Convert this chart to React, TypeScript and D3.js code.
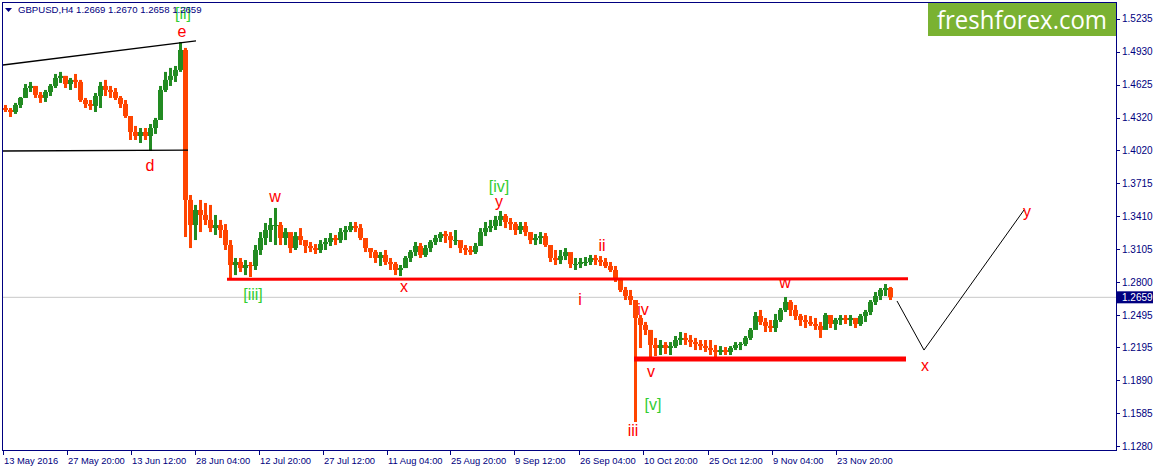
import React from 'react';
import * as d3 from 'd3';

// ---- data (GBPUSD H4, groups of 5 bars) ----
const firstOpen = 1.4411;
const highs = [
  1.4439, 1.4411, 1.4458, 1.4513, 1.4633, 1.4652, 1.4615, 1.4559, 1.4578, 1.4633,
  1.4726, 1.4745, 1.4708, 1.4689, 1.4726, 1.4671, 1.4504, 1.4485, 1.4550, 1.4652,
  1.4671, 1.4615, 1.4596, 1.4522, 1.4485, 1.4319, 1.4245, 1.4226, 1.4226, 1.4263,
  1.4319, 1.4615, 1.4745, 1.4782, 1.4800, 1.5022, 1.4967, 1.3606, 1.3514, 1.3560,
  1.3532, 1.3514, 1.3421, 1.3375, 1.3337, 1.3189, 1.3023, 1.3023, 1.3004, 1.2986,
  1.3143, 1.3263, 1.3347, 1.3393, 1.3486, 1.3356, 1.3300, 1.3208, 1.3263, 1.3300,
  1.3189, 1.3171, 1.3152, 1.3189, 1.3208, 1.3254, 1.3236, 1.3300, 1.3319, 1.3356,
  1.3356, 1.3337, 1.3171, 1.3115, 1.3097, 1.3078, 1.3097, 1.3023, 1.2986, 1.2958,
  1.3041, 1.3097, 1.3171, 1.3162, 1.3143, 1.3189, 1.3236, 1.3263, 1.3273, 1.3263,
  1.3282, 1.3162, 1.3143, 1.3134, 1.3162, 1.3300, 1.3356, 1.3375, 1.3412, 1.3458,
  1.3430, 1.3393, 1.3356, 1.3356, 1.3356, 1.3263, 1.3245, 1.3263, 1.3254, 1.3143,
  1.3097, 1.3097, 1.3115, 1.3051, 1.3023, 1.3023, 1.3032, 1.3051, 1.3051, 1.3041,
  1.3023, 1.2986, 1.2949, 1.2838, 1.2755, 1.2727, 1.2634, 1.2495, 1.2431, 1.2357,
  1.2283, 1.2264, 1.2245, 1.2245, 1.2301, 1.2338, 1.2329, 1.2310, 1.2283, 1.2264,
  1.2264, 1.2264, 1.2218, 1.2208, 1.2199, 1.2208, 1.2245, 1.2245, 1.2301, 1.2375,
  1.2523, 1.2542, 1.2468, 1.2449, 1.2505, 1.2560, 1.2662, 1.2634, 1.2588, 1.2505,
  1.2495, 1.2486, 1.2468, 1.2431, 1.2514, 1.2495, 1.2468, 1.2495, 1.2495, 1.2495,
  1.2468, 1.2505, 1.2542, 1.2634, 1.2708, 1.2745, 1.2782, 1.2755,
];
const lows = [
  1.4374, 1.4328, 1.4356, 1.4411, 1.4504, 1.4559, 1.4504, 1.4458, 1.4467, 1.4522,
  1.4596, 1.4643, 1.4596, 1.4578, 1.4596, 1.4467, 1.4411, 1.4393, 1.4374, 1.4411,
  1.4522, 1.4504, 1.4485, 1.4411, 1.4319, 1.4115, 1.4115, 1.4087, 1.4115, 1.4013,
  1.4171, 1.4374, 1.4559, 1.4615, 1.4652, 1.4745, 1.3217, 1.3115, 1.3189, 1.3263,
  1.3328, 1.3263, 1.3236, 1.3208, 1.3097, 1.2838, 1.2865, 1.2893, 1.2865, 1.2847,
  1.2912, 1.3051, 1.3143, 1.3171, 1.3143, 1.3143, 1.3143, 1.3069, 1.3097, 1.3143,
  1.3069, 1.3078, 1.3060, 1.3069, 1.3097, 1.3134, 1.3143, 1.3162, 1.3189, 1.3263,
  1.3263, 1.3189, 1.3078, 1.3023, 1.2977, 1.2949, 1.2958, 1.2912, 1.2865, 1.2856,
  1.2930, 1.2986, 1.3041, 1.3023, 1.3032, 1.3078, 1.3143, 1.3171, 1.3162, 1.3115,
  1.3143, 1.3069, 1.3051, 1.3051, 1.3060, 1.3143, 1.3226, 1.3263, 1.3282, 1.3319,
  1.3300, 1.3282, 1.3236, 1.3245, 1.3226, 1.3152, 1.3143, 1.3152, 1.3125, 1.2986,
  1.2958, 1.2967, 1.3004, 1.2930, 1.2912, 1.2930, 1.2949, 1.2958, 1.2958, 1.2949,
  1.2930, 1.2893, 1.2801, 1.2708, 1.2634, 1.2588, 1.1505, 1.2190, 1.2310, 1.2097,
  1.2116, 1.2125, 1.2134, 1.2125, 1.2190, 1.2218, 1.2218, 1.2199, 1.2171, 1.2171,
  1.2153, 1.2125, 1.2079, 1.2125, 1.2125, 1.2125, 1.2171, 1.2171, 1.2208, 1.2264,
  1.2403, 1.2403, 1.2338, 1.2338, 1.2338, 1.2431, 1.2523, 1.2486, 1.2449, 1.2394,
  1.2375, 1.2394, 1.2357, 1.2283, 1.2403, 1.2375, 1.2357, 1.2403, 1.2412, 1.2394,
  1.2375, 1.2394, 1.2431, 1.2495, 1.2588, 1.2634, 1.2671, 1.2634,
];
const closes = [
  1.4393, 1.4374, 1.4439, 1.4504, 1.4596, 1.4615, 1.4532, 1.4504, 1.4559, 1.4615,
  1.4689, 1.4708, 1.4633, 1.4671, 1.4652, 1.4485, 1.4448, 1.4430, 1.4522, 1.4615,
  1.4578, 1.4559, 1.4504, 1.4448, 1.4337, 1.4189, 1.4152, 1.4189, 1.4152, 1.4226,
  1.4300, 1.4578, 1.4671, 1.4708, 1.4763, 1.4948, 1.3560, 1.3328, 1.3467, 1.3421,
  1.3375, 1.3300, 1.3328, 1.3282, 1.3143, 1.2958, 1.2986, 1.2930, 1.2958, 1.2949,
  1.3097, 1.3208, 1.3282, 1.3328, 1.3328, 1.3208, 1.3263, 1.3115, 1.3226, 1.3189,
  1.3134, 1.3115, 1.3097, 1.3152, 1.3171, 1.3208, 1.3189, 1.3263, 1.3282, 1.3319,
  1.3300, 1.3208, 1.3115, 1.3078, 1.3023, 1.3051, 1.2986, 1.2967, 1.2912, 1.2930,
  1.3023, 1.3078, 1.3134, 1.3051, 1.3115, 1.3171, 1.3208, 1.3245, 1.3226, 1.3189,
  1.3189, 1.3115, 1.3097, 1.3078, 1.3134, 1.3263, 1.3300, 1.3319, 1.3375, 1.3412,
  1.3356, 1.3337, 1.3282, 1.3319, 1.3263, 1.3189, 1.3208, 1.3226, 1.3143, 1.3023,
  1.3004, 1.3041, 1.3078, 1.2967, 1.2967, 1.2986, 1.2986, 1.3023, 1.3004, 1.2986,
  1.2949, 1.2912, 1.2838, 1.2727, 1.2671, 1.2634, 1.2468, 1.2403, 1.2357, 1.2218,
  1.2190, 1.2218, 1.2190, 1.2208, 1.2264, 1.2283, 1.2264, 1.2245, 1.2227, 1.2208,
  1.2190, 1.2171, 1.2153, 1.2171, 1.2153, 1.2190, 1.2218, 1.2227, 1.2283, 1.2357,
  1.2486, 1.2431, 1.2394, 1.2375, 1.2449, 1.2542, 1.2616, 1.2542, 1.2486, 1.2449,
  1.2431, 1.2412, 1.2394, 1.2357, 1.2495, 1.2412, 1.2449, 1.2468, 1.2449, 1.2468,
  1.2412, 1.2486, 1.2523, 1.2616, 1.2671, 1.2727, 1.2745, 1.2659,
];
const barsPerGroup = 5;

const priceTicks = [1.5235, 1.4930, 1.4625, 1.4320, 1.4020, 1.3715, 1.3410, 1.3105, 1.2800, 1.2495, 1.2195, 1.1890, 1.1585, 1.1280];
const dateLabels = ['13 May 2016', '27 May 20:00', '13 Jun 12:00', '28 Jun 04:00', '12 Jul 20:00', '27 Jul 12:00', '11 Aug 04:00', '25 Aug 20:00', '9 Sep 12:00', '26 Sep 04:00', '10 Oct 20:00', '25 Oct 12:00', '9 Nov 04:00', '23 Nov 20:00'];
const dateBars = [0, 64, 128, 192, 256, 320, 384, 447, 511, 576, 640, 705, 769, 833];

const header = 'GBPUSD,H4  1.2669 1.2670 1.2658 1.2659';
const lastPrice = 1.2659;

// annotation lines in (bar, price)
const wedgeTop = [{ bar: 0, price: 1.4809 }, { bar: 193, price: 1.5032 }];
const wedgeBottom = [{ bar: 0, price: 1.4013 }, { bar: 185, price: 1.4022 }];
const resistance = [{ bar: 224, price: 1.2826 }, { bar: 905, price: 1.2830 }];
const support = [{ bar: 631, price: 1.2088 }, { bar: 903, price: 1.2088 }];
const projection = [{ bar: 894, price: 1.2625 }, { bar: 921, price: 1.2171 }, { bar: 1021, price: 1.3467 }];

const waveLabels = [
  { text: '[ii]', bar: 180, price: 1.5235, color: 'green' },
  { text: 'e', bar: 179, price: 1.5069, color: 'red' },
  { text: 'd', bar: 147, price: 1.3828, color: 'red' },
  { text: 'w', bar: 272, price: 1.3541, color: 'red' },
  { text: '[iii]', bar: 250, price: 1.2634, color: 'green' },
  { text: 'x', bar: 401, price: 1.2708, color: 'red' },
  { text: '[iv]', bar: 496, price: 1.3634, color: 'green' },
  { text: 'y', bar: 496, price: 1.3495, color: 'red' },
  { text: 'ii', bar: 599, price: 1.3088, color: 'red' },
  { text: 'i', bar: 577, price: 1.2588, color: 'red' },
  { text: 'iv', bar: 640, price: 1.2495, color: 'red' },
  { text: 'v', bar: 648, price: 1.1921, color: 'red' },
  { text: '[v]', bar: 650, price: 1.1616, color: 'green' },
  { text: 'iii', bar: 630, price: 1.1375, color: 'red' },
  { text: 'w', bar: 782, price: 1.2745, color: 'red' },
  { text: 'x', bar: 922, price: 1.1977, color: 'red' },
  { text: 'y', bar: 1024, price: 1.3402, color: 'red' },
];

const W = 1156, H = 471;
const left = 2, top = 2, right = 1116, bottom = 450;
const AXIS = '#000080';
const UP = '#228B22';
const DOWN = '#FF4500';
const LABEL_GREEN = '#32CD32';

export default function App() {
  const x = d3.scaleLinear().domain([0, right - 3]).range([3, right]);
  const y = d3.scaleLinear().domain([1.1246, 1.5392]).range([bottom, top]);
  const line = d3.line<{ bar: number; price: number }>().x(d => x(d.bar)).y(d => y(d.price));
  const font = '"Liberation Sans", Arial, sans-serif';

  const bars = highs.map((hi, i) => {
    const o = i === 0 ? firstOpen : closes[i - 1];
    const c = closes[i];
    const up = c >= o;
    const b0 = i * barsPerGroup;
    const bodyTop = y(Math.max(o, c));
    const bodyH = Math.max(1, y(Math.min(o, c)) - bodyTop);
    return (
      <g key={i} fill={up ? UP : DOWN}>
        <rect x={x(b0 + 1)} width={3} y={y(hi)} height={Math.max(1, y(lows[i]) - y(hi))} />
        <rect x={x(b0)} width={5} y={bodyTop} height={bodyH} />
      </g>
    );
  });

  return (
    <svg width={W} height={H} style={{ position: 'absolute', left: 0, top: 0, background: '#fff' }} fontFamily={font}>
      <rect x={0} y={0} width={W} height={H} fill="#fff" />
      {/* current price line */}
      <line x1={left} x2={right} y1={y(lastPrice)} y2={y(lastPrice)} stroke="#c8c8c8" strokeWidth={1} />
      {/* logo */}
      <rect x={928} y={3} width={188} height={33} fill="#7ab232" />
      <text x={1022} y={28.5} textAnchor="middle" fill="#fff" fontFamily='"Open Sans", sans-serif' fontSize={25} textLength={170} lengthAdjust="spacingAndGlyphs">freshforex.com</text>
      {/* bars */}
      {bars}
      {/* annotations */}
      <path d={line(wedgeTop) || ''} stroke="#000" strokeWidth={1.3} fill="none" />
      <path d={line(wedgeBottom) || ''} stroke="#000" strokeWidth={1.3} fill="none" />
      <path d={line(resistance) || ''} stroke="#ff0000" strokeWidth={3} fill="none" />
      <path d={line(support) || ''} stroke="#ff0000" strokeWidth={5} fill="none" />
      <path d={line(projection) || ''} stroke="#000" strokeWidth={1} fill="none" />
      {waveLabels.map((l, i) => (
        <text key={i} x={x(l.bar)} y={y(l.price)} textAnchor="middle" fontSize={16} fill={l.color === 'green' ? LABEL_GREEN : '#ff0000'}>{l.text}</text>
      ))}
      {/* frame */}
      <rect x={left + 0.5} y={top + 0.5} width={right - left} height={bottom - top} fill="none" stroke={AXIS} strokeWidth={1} />
      {/* price axis */}
      {priceTicks.map((p, i) => (
        <g key={i}>
          <line x1={right} x2={right + 4} y1={Math.round(y(p)) + 0.5} y2={Math.round(y(p)) + 0.5} stroke={AXIS} />
          <text x={right + 6} y={y(p)} dy="0.35em" fontSize={10} fill={AXIS}>{p.toFixed(4)}</text>
        </g>
      ))}
      <rect x={right} y={y(lastPrice) - 6} width={37} height={12} fill={AXIS} />
      <text x={right + 6} y={y(lastPrice)} dy="0.35em" fontSize={10} fill="#fff">{lastPrice.toFixed(4)}</text>
      {/* time axis */}
      {dateBars.map((b, i) => (
        <g key={i}>
          <line x1={Math.round(x(b)) + 0.5} x2={Math.round(x(b)) + 0.5} y1={bottom} y2={bottom + 5} stroke={AXIS} />
          <text x={x(b) + 1} y={464} fontSize={9.4} fill={AXIS}>{dateLabels[i]}</text>
        </g>
      ))}
      {/* header */}
      <path d="M5,8 L12,8 L8.5,12 Z" fill={AXIS} />
      <text x={18} y={13} fontSize={9.6} fill={AXIS}>{header}</text>
    </svg>
  );
}
